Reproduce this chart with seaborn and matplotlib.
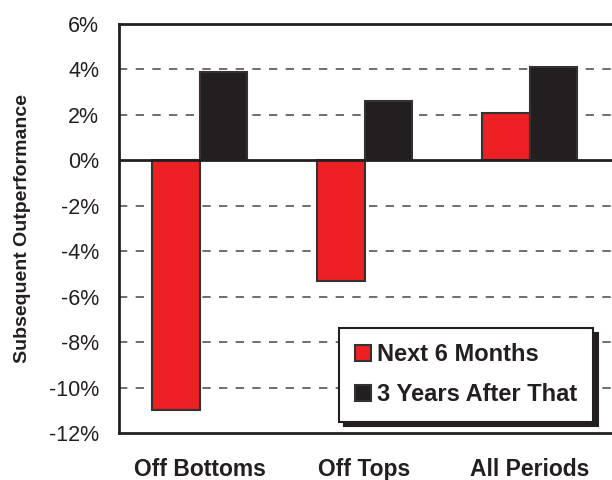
import matplotlib
matplotlib.use('Agg')
import matplotlib.pyplot as plt
from matplotlib.patches import Shadow
import pandas as pd
import seaborn as sns

# valores (em %)
categorias = ['Off Bottoms', 'Off Tops', 'All Periods']
series = ['Next 6 Months', '3 Years After That']
next_6m = [-11.0, -5.3, 2.1]
tres_anos = [3.9, 2.6, 4.1]
yticks = list(range(-12, 7, 2))

df = pd.DataFrame({
    'Categoria': categorias * 2,
    'Serie': [series[0]] * 3 + [series[1]] * 3,
    'Valor': next_6m + tres_anos,
})

sns.set_style('white')
plt.rcParams['font.family'] = ['Liberation Sans', 'DejaVu Sans']
plt.rcParams['text.color'] = '#231F20'
plt.rcParams['axes.labelcolor'] = '#231F20'
plt.rcParams['xtick.color'] = '#231F20'
plt.rcParams['ytick.color'] = '#231F20'

fig, ax = plt.subplots(figsize=(6.12, 4.8), dpi=100)
fig.subplots_adjust(left=0.194, right=1.0, top=0.95, bottom=0.098)

# linhas de grade tracejadas
for v in yticks:
    if v not in (0, 6, -12):
        ax.axhline(v, color='#555555', lw=1.2, ls=(0, (5, 5)), zorder=0)

sns.barplot(data=df, x='Categoria', y='Valor', hue='Serie', order=categorias,
            hue_order=series, palette=['#ED2024', '#231F20'], width=0.58,
            gap=0, saturation=1, edgecolor='#333333', linewidth=1.5, ax=ax,
            zorder=2)

ax.axhline(0, color='#231F20', lw=2, zorder=3)

ax.set_ylim(-12, 6)
ax.set_xlim(-0.49, 2.5)
ax.set_yticks(yticks)
ax.set_yticklabels([f'{v}%' for v in yticks], fontsize=15.5)
ax.set_xticks(range(3))
ax.set_xticklabels(categorias, fontsize=16.5, fontweight='bold')
ax.tick_params(axis='x', length=0, pad=18)
ax.tick_params(axis='y', length=6.5, width=2, direction='out', pad=7.5)
ax.set_xlabel('')
ax.set_ylabel('Subsequent Outperformance', fontsize=14, fontweight='bold', labelpad=13)

for lado in ['left', 'top', 'bottom']:
    ax.spines[lado].set_linewidth(2)
    ax.spines[lado].set_color('#231F20')
ax.spines['right'].set_visible(False)

leg = ax.legend(loc='upper right', bbox_to_anchor=(0.961, 0.257), borderaxespad=0,
                frameon=True, fancybox=False, shadow=False,
                edgecolor='#231F20', framealpha=1, handlelength=0.7, handleheight=0.7,
                handletextpad=0.25, labelspacing=0.72, borderpad=0.65,
                prop={'weight': 'bold', 'size': 17})
leg.get_frame().set_linewidth(1.5)
leg.set_zorder(6)

# sombra da legenda (preta, deslocada)
fig.canvas.draw()
sombra = Shadow(leg.legendPatch, 3.5, -3.5, color='#231F20', alpha=1)
sombra.set_zorder(5.5)
ax.add_artist(sombra)

plt.savefig('out.png', dpi=100)
